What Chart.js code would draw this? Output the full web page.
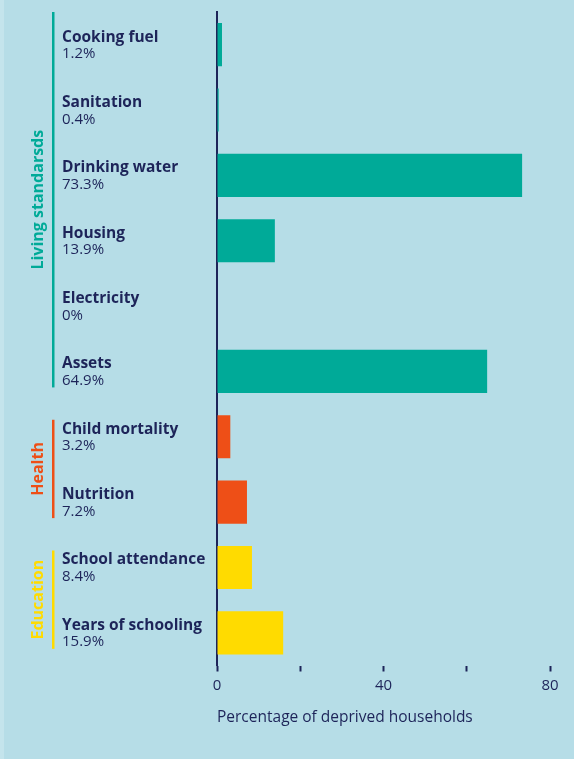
<!DOCTYPE html>
<html>
<head>
<meta charset="utf-8">
<script src="https://cdn.jsdelivr.net/npm/chart.js@4"></script>
<style>
    html, body {
        margin: 0;
        padding: 0;
        background: linear-gradient(to right, #c4e4ec 4px, #b6dde7 4px);
    }
    canvas {
        display: block;
    }
</style>
</head>
<body>
<canvas id="mpi_chart" width="574" height="759"></canvas>
<script>
const categories = ["Cooking fuel", "Sanitation", "Drinking water", "Housing", "Electricity", "Assets", "Child mortality", "Nutrition", "School attendance", "Years of schooling"];
const values = [1.2, 0.4, 73.3, 13.9, 0, 64.9, 3.2, 7.2, 8.4, 15.9];
const valueLabels = ["1.2%", "0.4%", "73.3%", "13.9%", "0%", "64.9%", "3.2%", "7.2%", "8.4%", "15.9%"];
const groupNames = ["Living standarsds", "Health", "Education"];
const groupOfCategory = [0, 0, 0, 0, 0, 0, 1, 1, 2, 2];
const xTickLabels = { 0: "0", 40: "40", 80: "80" };

const COLORS = {
    navy: "#1d2459",
    groups: ["#00aa98", "#ee4f17", "#ffdb00"]
};

const FONT = "'Open Sans', 'Noto Sans', sans-serif";

// labels on the left and the coloured group brackets
const sideLabels = {
    id: "sideLabels",
    afterDraw(chart) {
        const ctx = chart.ctx;
        const y = chart.scales.y;
        ctx.save();

        for (let i = 0; i < categories.length; i++) {
            const cy = y.getPixelForValue(i);
            ctx.fillStyle = COLORS.navy;
            ctx.textAlign = "left";
            ctx.textBaseline = "alphabetic";
            ctx.font = `bold 15.5px ${FONT}`;
            ctx.fillText(categories[i], 62, cy - 3);
            ctx.font = `15px ${FONT}`;
            ctx.fillText(valueLabels[i], 62, cy + 13.5);
        }

        for (let g = 0; g < groupNames.length; g++) {
            const idx = [];
            for (let i = 0; i < groupOfCategory.length; i++) {
                if (groupOfCategory[i] === g) idx.push(i);
            }
            const first = y.getPixelForValue(idx[0]);
            const last = y.getPixelForValue(idx[idx.length - 1]);
            const top = g === 0 ? chart.chartArea.top : first - 17;
            const bottom = last + 16;

            ctx.fillStyle = COLORS.groups[g];
            ctx.fillRect(52, top, 2.5, bottom - top);

            ctx.save();
            ctx.translate(43, (top + bottom) / 2);
            ctx.rotate(-Math.PI / 2);
            ctx.font = `bold 16px ${FONT}`;
            ctx.textAlign = "center";
            ctx.textBaseline = "alphabetic";
            ctx.fillText(groupNames[g], 0, 0);
            ctx.restore();
        }

        ctx.restore();
    }
};

const barChart = new Chart(document.getElementById("mpi_chart"), {
    type: "bar",
    data: {
        labels: categories,
        datasets: [{
            label: "Deprived households",
            data: values,
            backgroundColor: groupOfCategory.map(g => COLORS.groups[g]),
            borderWidth: 0,
            barPercentage: 0.66,
            categoryPercentage: 1
        }]
    },
    options: {
        indexAxis: "y",
        responsive: false,
        animation: false,
        layout: {
            padding: { left: 217, right: 24, top: 12, bottom: 0 }
        },
        plugins: {
            legend: { display: false },
            tooltip: { enabled: false }
        },
        scales: {
            y: {
                z: 1,
                ticks: { display: false },
                grid: { display: false },
                border: { display: true, color: COLORS.navy, width: 2 },
                afterFit(scale) {
                    scale.width = 0;
                }
            },
            x: {
                min: 0,
                max: 80,
                ticks: {
                    stepSize: 20,
                    padding: 5,
                    color: COLORS.navy,
                    font: { family: FONT, size: 15 },
                    maxRotation: 0,
                    callback: (v) => xTickLabels[v] || ""
                },
                grid: {
                    display: true,
                    drawOnChartArea: false,
                    drawTicks: true,
                    tickLength: 6,
                    tickWidth: 2,
                    tickColor: COLORS.navy
                },
                border: { display: false },
                title: {
                    display: true,
                    text: "Percentage of deprived households",
                    align: "start",
                    color: COLORS.navy,
                    font: { family: FONT, size: 15.5 },
                    padding: { top: 0, bottom: 32 }
                },
                afterFit(scale) {
                    scale.height = 93.5;
                }
            }
        }
    },
    plugins: [sideLabels]
});
</script>
</body>
</html>
